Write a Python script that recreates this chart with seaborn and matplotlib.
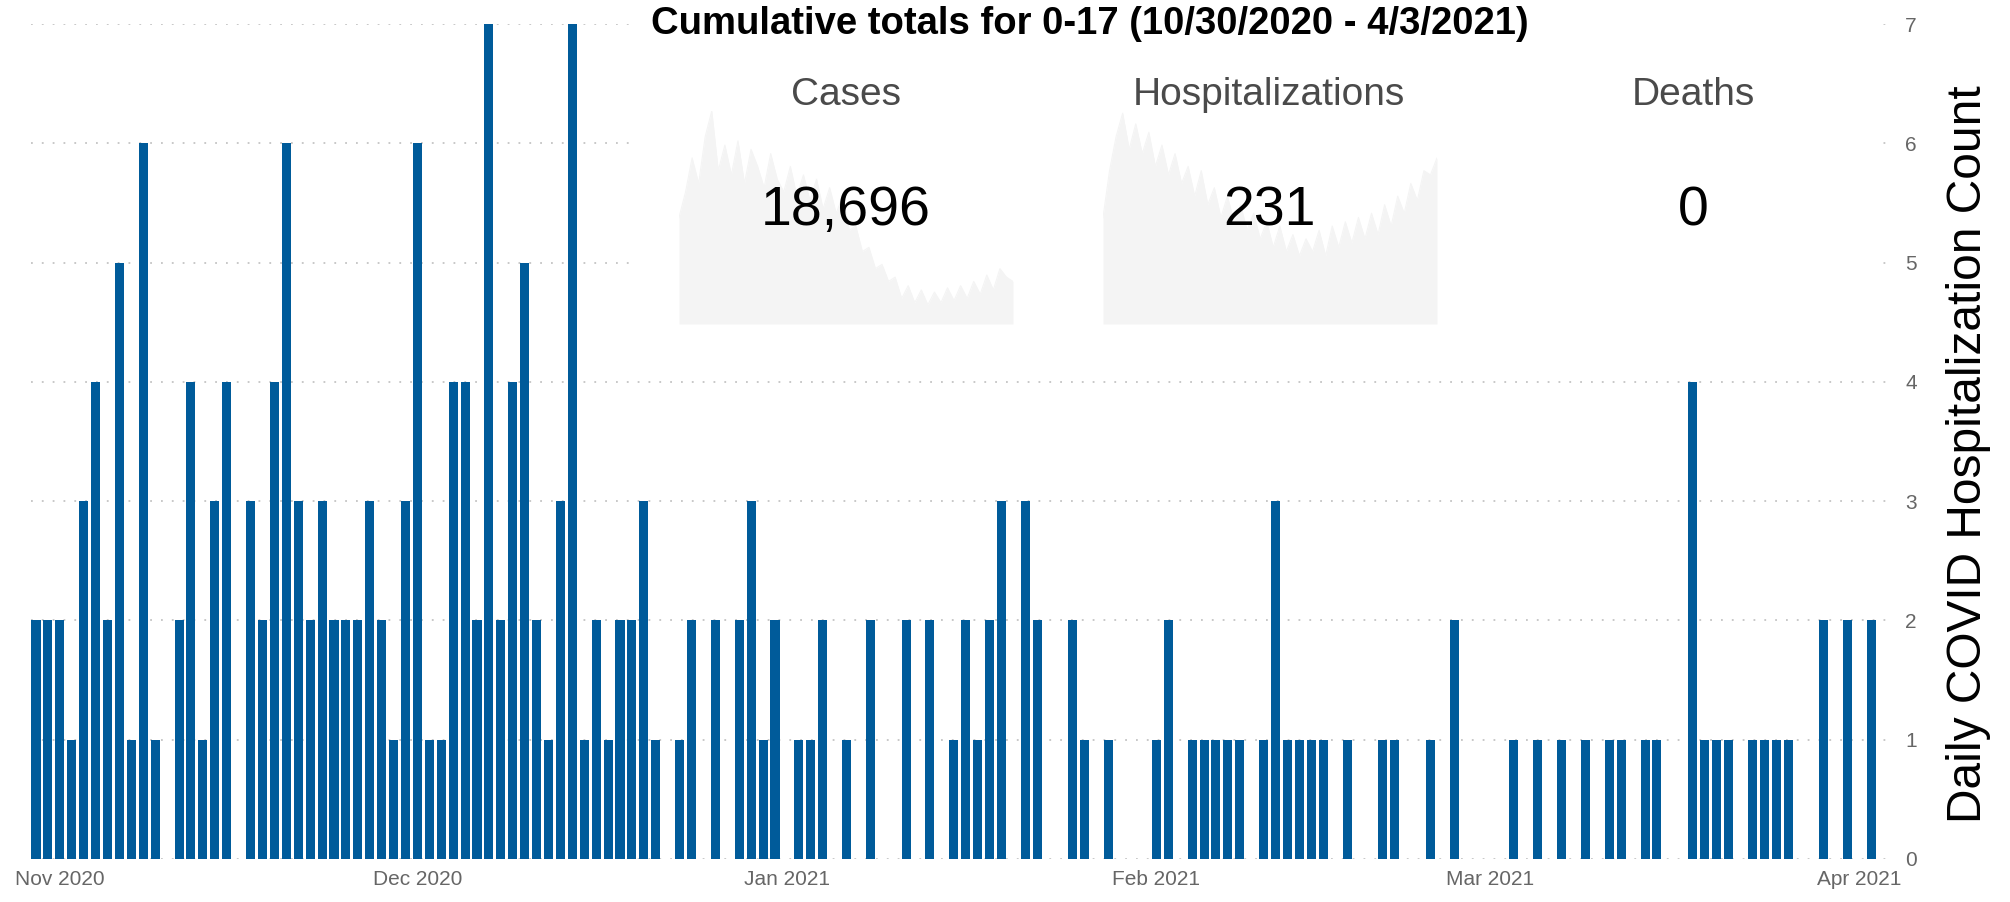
import matplotlib
matplotlib.use("Agg")
import matplotlib.pyplot as plt
import numpy as np
import pandas as pd
import seaborn as sns

W, H = 2010, 902

# daily pediatric (0-17) COVID hospitalizations, 10/30/2020 - 4/3/2021
dates = pd.date_range("2020-10-30", "2021-04-03", freq="D")
daily_hosp = [
    2, 2, 2, 1, 3, 4, 2, 5, 1, 6, 1, 0, 2, 4, 1, 3, 4, 0,
    3, 2, 4, 6, 3, 2, 3, 2, 2, 2, 3, 2, 1, 3, 6,
    1, 1, 4, 4, 2, 7, 2, 4, 5, 2, 1, 3, 7, 1, 2, 1, 2, 2, 3, 1,
    0, 1, 2, 0, 2, 0, 2, 3, 1, 2,
    0, 1, 1, 2, 0, 1, 0,
    2, 0, 0, 2, 0, 2, 0, 1, 2, 1,
    2, 3, 0, 3, 2, 0, 0, 2, 1, 0,
    1, 0, 0, 0, 1, 2, 0, 1, 1, 1,
    1, 1, 0, 1, 3, 1, 1, 1, 1, 0,
    1, 0, 0, 1, 1, 0, 0, 1, 0, 2,
    0, 0, 0, 0, 1, 0, 1, 0, 1, 0,
    1, 0, 1, 1, 0, 1, 1, 0, 0, 4,
    1, 1, 1, 0, 1, 1, 1, 1, 0, 0,
    2, 0, 2, 0, 2, 0,
]

# faint background sparklines in the summary card (relative height)
cases_spark = [
    0.50, 0.62, 0.78, 0.66, 0.88, 1.00, 0.72, 0.84, 0.70, 0.86, 0.66, 0.82, 0.74,
    0.64, 0.80, 0.68, 0.62, 0.74, 0.60, 0.70, 0.58, 0.68, 0.54, 0.64, 0.52, 0.60,
    0.44, 0.46, 0.34, 0.36, 0.26, 0.28, 0.20, 0.22, 0.12, 0.18, 0.10, 0.16, 0.09,
    0.15, 0.10, 0.17, 0.11, 0.18, 0.12, 0.20, 0.14, 0.23, 0.16, 0.26, 0.22, 0.20,
]
hosp_spark = [
    0.50, 0.72, 0.88, 0.99, 0.82, 0.94, 0.80, 0.90, 0.74, 0.84, 0.70, 0.80, 0.66,
    0.74, 0.60, 0.72, 0.56, 0.64, 0.50, 0.60, 0.48, 0.56, 0.44, 0.52, 0.40, 0.48,
    0.36, 0.46, 0.34, 0.42, 0.32, 0.40, 0.34, 0.44, 0.32, 0.46, 0.36, 0.48, 0.38,
    0.50, 0.40, 0.52, 0.42, 0.56, 0.46, 0.60, 0.52, 0.66, 0.58, 0.72, 0.70, 0.78,
]

card_labels = ["Cases", "Hospitalizations", "Deaths"]
card_values = ["18,696", "231", "0"]
title = "Cumulative totals for 0-17 (10/30/2020 - 4/3/2021)"
y_label = "Daily COVID Hospitalization Count"

BAR = "#005b9a"
GRID = "#c4c4c4"
TICK = "#666666"
SPARK = "#f4f4f4"

sns.set_theme(style="white")
plt.rcParams["font.family"] = ["Liberation Sans", "DejaVu Sans"]

fig = plt.figure(figsize=(W / 100, H / 100), dpi=100)
ax = fig.add_axes([31 / W, 1 - 859 / H, 1856 / W, (859 - 24) / H])

df = pd.DataFrame({"date": dates.strftime("%Y-%m-%d"), "count": daily_hosp})
sns.barplot(data=df, x="date", y="count", color=BAR, saturation=1,
            width=0.76, linewidth=0, errorbar=None, ax=ax, zorder=3)

month_pos = [i for i, d in enumerate(dates) if d.day == 1]
ax.set_xticks(month_pos)
ax.set_xticklabels([dates[i].strftime("%b %Y") for i in month_pos])
ax.set_xlim(-0.42, 155.3)
ax.set_ylim(0, 7)
ax.set_yticks(range(0, 8))
ax.yaxis.tick_right()
ax.set_axisbelow(True)
ax.yaxis.grid(True, linestyle=(0, (1, 5)), color=GRID, linewidth=1.3)
ax.xaxis.grid(False)
ax.tick_params(axis="y", length=0, pad=13, labelsize=15, labelcolor=TICK)
ax.tick_params(axis="x", length=0, pad=8, labelsize=15, labelcolor=TICK)
ax.set_xlabel("")
ax.set_ylabel("")
for s in ax.spines.values():
    s.set_visible(False)

# white summary card over the top of the chart
card = fig.add_axes([630 / W, 1 - 340 / H, 1245 / W, 340 / H], zorder=1)
card.set_facecolor("white")
card.set_xticks([])
card.set_yticks([])
for s in card.spines.values():
    s.set_visible(False)

for left, vals in [(679, cases_spark), (1103, hosp_spark)]:
    sp = fig.add_axes([left / W, 1 - 324 / H, 334 / W, 213 / H], zorder=2)
    xs = np.arange(len(vals))
    sp.fill_between(xs, 0, vals, color=SPARK, linewidth=0)
    sns.lineplot(x=xs, y=vals, color=SPARK, linewidth=0.8, ax=sp)
    sp.set_xlim(0, len(vals) - 1)
    sp.set_ylim(0, 1)
    sp.axis("off")

fig.text(1090 / W, 1 - 24 / H, title, ha="center", va="center",
         fontsize=27.5, fontweight="bold", color="black", zorder=5)

for cx, lab, val in zip([846, 1269, 1693], card_labels, card_values):
    fig.text(cx / W, 1 - 105 / H, lab, ha="center", va="baseline",
             fontsize=28, color="#4a4a4a", zorder=5)
    fig.text(cx / W, 1 - 225 / H, val, ha="center", va="baseline",
             fontsize=40, color="black", zorder=5)

fig.text(1968 / W, 1 - 454 / H, y_label, rotation=90, ha="center", va="center",
         fontsize=34.5, color="black")

fig.savefig("out.png", dpi=100)
